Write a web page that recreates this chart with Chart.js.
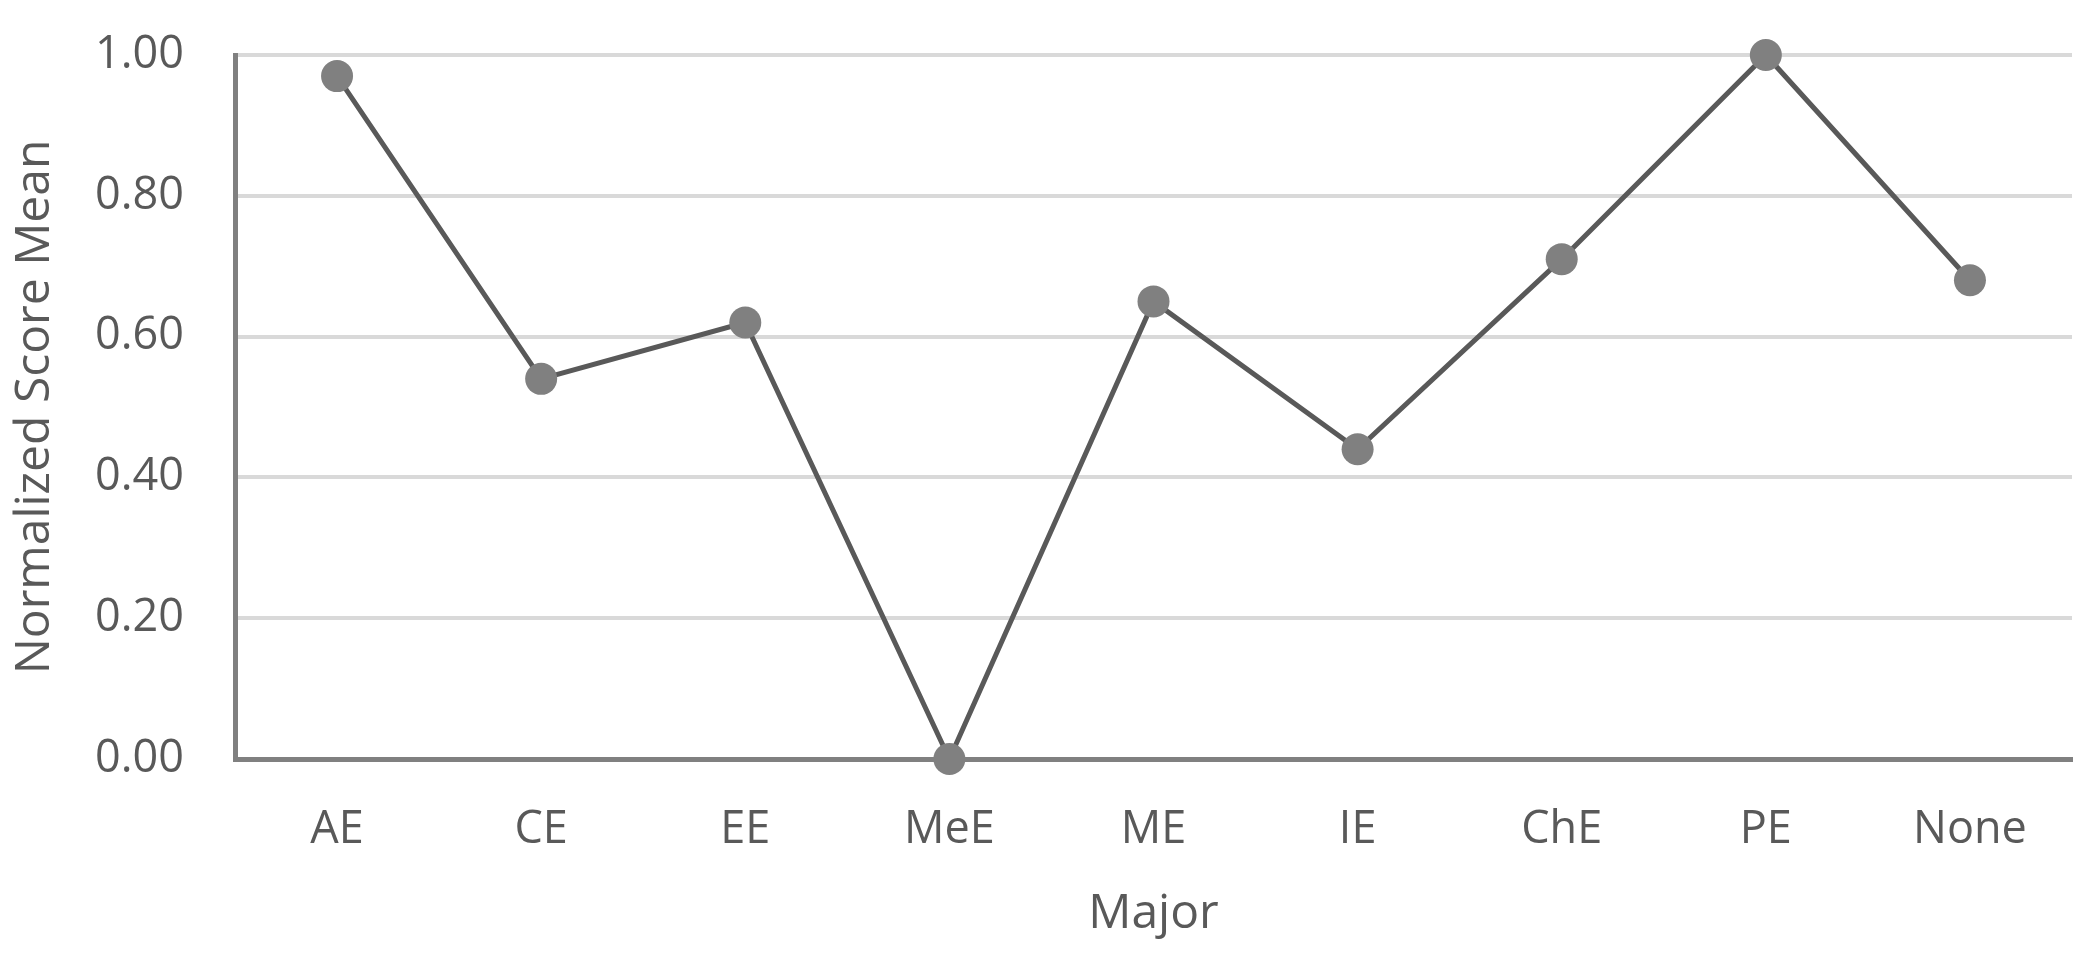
<!DOCTYPE html>
<html>
<head>
<meta charset="utf-8">
<script src="https://cdn.jsdelivr.net/npm/chart.js@4"></script>
<style>
  html, body { margin: 0; padding: 0; background: #ffffff; }
  #wrap { width: 2088px; height: 953px; position: relative; }
</style>
</head>
<body>
<div id="wrap"><canvas id="c" width="2088" height="953"></canvas></div>
<script>
// ---- data ----
const categories = ['AE', 'CE', 'EE', 'MeE', 'ME', 'IE', 'ChE', 'PE', 'None'];
const scoreMeans = [0.97, 0.54, 0.62, 0.00, 0.65, 0.44, 0.71, 1.00, 0.68];
const yTickValues = [0.00, 0.20, 0.40, 0.60, 0.80, 1.00];
const xAxisTitle = 'Major';
const yAxisTitle = 'Normalized Score Mean';

const textColor = '#595959';
const fontFamily = '"Open Sans", Lato, sans-serif';

new Chart(document.getElementById('c'), {
  type: 'line',
  data: {
    labels: categories,
    datasets: [{
      data: scoreMeans,
      borderColor: '#595959',
      borderWidth: 5,
      pointRadius: 16,
      pointHoverRadius: 16,
      pointBackgroundColor: '#808080',
      pointBorderWidth: 0,
      tension: 0,
      fill: false,
      clip: false
    }]
  },
  options: {
    responsive: false,
    animation: false,
    events: [],
    layout: { padding: { top: 55, right: 16, left: 0, bottom: 0 } },
    plugins: { legend: { display: false }, tooltip: { enabled: false } },
    scales: {
      x: {
        offset: true,
        grid: { display: false, drawTicks: false },
        border: { display: true, color: '#808080', width: 5 },
        ticks: {
          color: textColor,
          font: { family: fontFamily, size: 45 },
          padding: 44,
          maxRotation: 0,
          autoSkip: false
        },
        title: {
          display: true,
          text: xAxisTitle,
          color: textColor,
          font: { family: fontFamily, size: 48 },
          padding: { top: 0, bottom: 10 }
        },
        afterFit: (s) => { s.height = 194; }
      },
      y: {
        min: 0,
        max: 1,
        afterBuildTicks: (s) => { s.ticks = yTickValues.map(v => ({ value: v })); },
        grid: {
          drawTicks: true,
          tickLength: 48,
          tickColor: 'rgba(0,0,0,0)',
          lineWidth: 4,
          color: (ctx) => (ctx.tick && ctx.tick.value === 0) ? 'rgba(0,0,0,0)' : '#d9d9d9'
        },
        border: { display: true, color: '#808080', width: 5 },
        ticks: {
          color: textColor,
          font: { family: fontFamily, size: 45 },
          padding: 3,
          callback: (v) => Number(v).toFixed(2)
        },
        title: {
          display: true,
          text: yAxisTitle,
          color: textColor,
          font: { family: fontFamily, size: 48 },
          padding: { top: 7, bottom: 0 }
        },
        afterFit: (s) => { s.width = 235; }
      }
    }
  }
});
</script>
</body>
</html>
